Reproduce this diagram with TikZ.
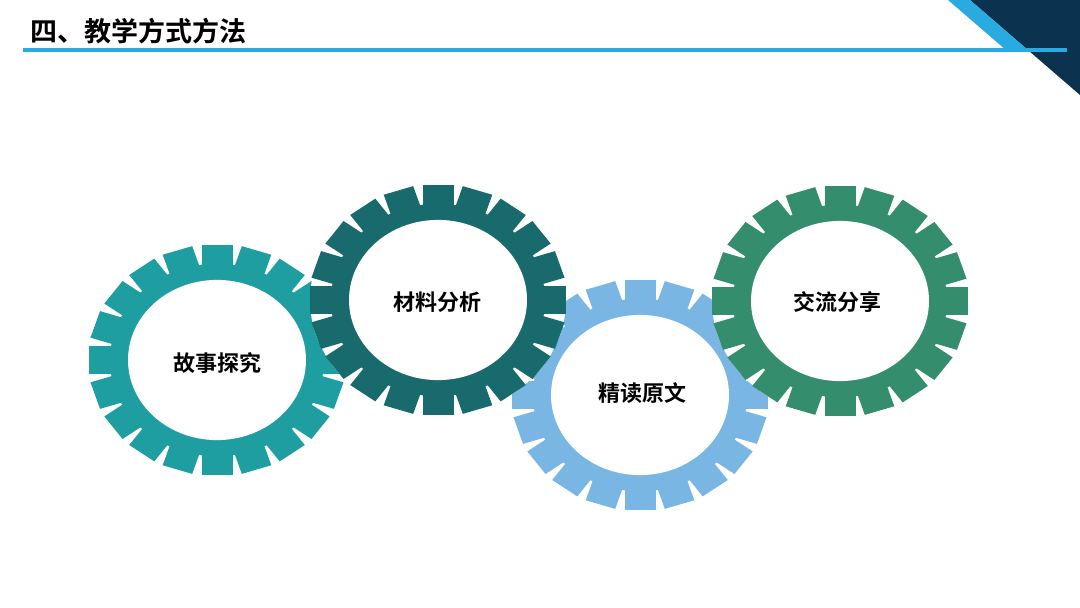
\documentclass[tikz,border=0pt]{standalone}
\usepackage{fontspec}
\newfontfamily\cjkb[BoldFont={Noto Sans CJK SC Bold}]{Noto Sans CJK SC}
\definecolor{gearA}{RGB}{31,158,161}
\definecolor{gearB}{RGB}{24,106,108}
\definecolor{gearC}{RGB}{122,182,227}
\definecolor{gearD}{RGB}{52,142,110}
\definecolor{lineblue}{RGB}{41,171,226}
\definecolor{navy}{RGB}{11,50,78}
\newcommand{\drawgear}[3]{%
  \begin{scope}[shift={(#1,#2)},yscale=0.9]
    \fill[white] (0,0) circle (128);
    \fill[#3] (0,0) circle (107);
    \foreach \a in {0,18,...,342}{
      \fill[#3,rotate=\a] (102,-15.5) rectangle (128,15.5);
    }
    \fill[white] (0,0) circle (89);
  \end{scope}}
\tikzset{gearlabel/.style={font=\cjkb\bfseries\fontsize{22}{25}\selectfont,text=black,inner sep=0pt}}
\begin{document}
\begin{tikzpicture}[x=1pt,y=-1pt]
\useasboundingbox (0,0) rectangle (1080,608);
\fill[white] (0,0) rectangle (1080,608);
% corner decoration
\fill[navy] (970,0) -- (1080,0) -- (1080,95) -- cycle;
\fill[lineblue] (948,0) -- (970,0) -- (1025.6,48) -- (1003.6,48) -- cycle;
\fill[lineblue] (23,47.5) rectangle (1067,52);
\node[anchor=west,inner sep=0pt,font=\cjkb\bfseries\fontsize{27}{30}\selectfont] (title) at (30,31) {四、教学方式方法};
% gears
\drawgear{217}{360}{gearA}
\drawgear{640}{395}{gearC}
\drawgear{438}{300}{gearB}
\drawgear{840}{301}{gearD}
\node[gearlabel] (g1) at (217,363) {故事探究};
\node[gearlabel] (g2) at (437,302) {材料分析};
\node[gearlabel] (g3) at (642,393) {精读原文};
\node[gearlabel] (g4) at (837,302) {交流分享};
\end{tikzpicture}
\end{document}
